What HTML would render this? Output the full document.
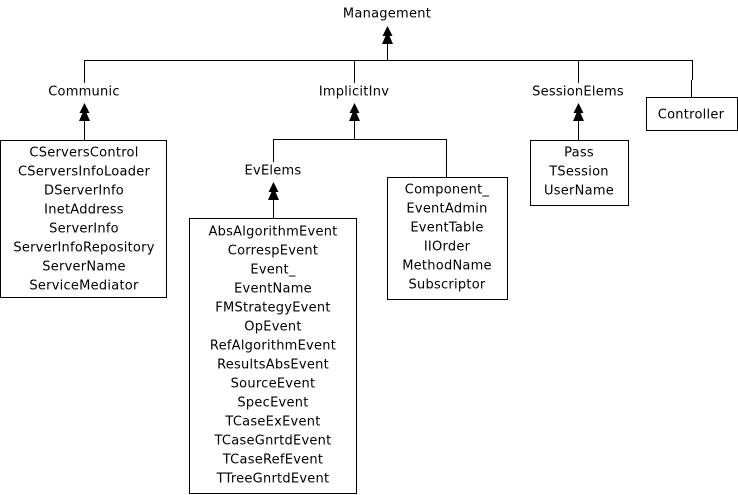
<!DOCTYPE html>
<html><head><meta charset="utf-8"><style>
html,body{margin:0;padding:0;background:#fff;width:738px;height:495px;overflow:hidden}
svg text{font-family:"DejaVu Sans","Liberation Sans",sans-serif;font-size:13px;letter-spacing:0.25px;fill:#000;text-anchor:middle;dominant-baseline:central}
</style></head><body>
<svg width="738" height="495" viewBox="0 0 738 495" xmlns="http://www.w3.org/2000/svg">
<defs>
<g id="ar"><polygon points="0,0 -5,10 -2,10 -5.5,18 5.5,18 2,10 5,10" fill="#000"/></g>
</defs>
<g stroke="#000" stroke-width="1" fill="none" shape-rendering="crispEdges">
<line x1="84.5" y1="60.5" x2="692.5" y2="60.5"/>
<line x1="387.5" y1="40" x2="387.5" y2="60"/>
<line x1="84.5" y1="60" x2="84.5" y2="83"/>
<line x1="354.5" y1="60" x2="354.5" y2="83"/>
<line x1="578.5" y1="60" x2="578.5" y2="83"/>
<line x1="692.5" y1="60" x2="692.5" y2="80"/>
<line x1="691.5" y1="80" x2="691.5" y2="97"/>
<line x1="84.5" y1="118" x2="84.5" y2="140"/>
<line x1="354.5" y1="118" x2="354.5" y2="139"/>
<line x1="273.5" y1="139.5" x2="446.5" y2="139.5"/>
<line x1="273.5" y1="139" x2="273.5" y2="162"/>
<line x1="446.5" y1="139" x2="446.5" y2="177"/>
<line x1="273.5" y1="198" x2="273.5" y2="218"/>
<line x1="578.5" y1="118" x2="578.5" y2="140"/>
<rect x="0.5" y="140.5" width="166" height="157"/>
<rect x="189.5" y="218.5" width="167" height="275"/>
<rect x="387.5" y="177.5" width="120" height="122"/>
<rect x="530.5" y="140.5" width="98" height="65"/>
<rect x="646.5" y="97.5" width="91" height="33"/>
</g>
<use href="#ar" x="387.5" y="26"/>
<use href="#ar" x="84.5" y="103"/>
<use href="#ar" x="354.5" y="103"/>
<use href="#ar" x="578.5" y="103"/>
<use href="#ar" x="273.5" y="182"/>
<g transform="translate(0,1)">
<text x="387" y="13">Management</text>
<text x="84" y="91">Communic</text>
<text x="354" y="91">ImplicitInv</text>
<text x="578" y="91">SessionElems</text>
<text x="273" y="170">EvElems</text>
<text x="691" y="114">Controller</text>
<g>
<text x="84" y="152">CServersControl</text>
<text x="84" y="171">CServersInfoLoader</text>
<text x="84" y="190">DServerInfo</text>
<text x="84" y="209">InetAddress</text>
<text x="84" y="228">ServerInfo</text>
<text x="84" y="247">ServerInfoRepository</text>
<text x="84" y="266">ServerName</text>
<text x="84" y="285">ServiceMediator</text>
</g>
<g>
<text x="273" y="231">AbsAlgorithmEvent</text>
<text x="273" y="250">CorrespEvent</text>
<text x="273" y="269">Event_</text>
<text x="273" y="288">EventName</text>
<text x="273" y="307">FMStrategyEvent</text>
<text x="273" y="326">OpEvent</text>
<text x="273" y="345">RefAlgorithmEvent</text>
<text x="273" y="364">ResultsAbsEvent</text>
<text x="273" y="383">SourceEvent</text>
<text x="273" y="402">SpecEvent</text>
<text x="273" y="421">TCaseExEvent</text>
<text x="273" y="440">TCaseGnrtdEvent</text>
<text x="273" y="459">TCaseRefEvent</text>
<text x="273" y="478">TTreeGnrtdEvent</text>
</g>
<g>
<text x="447" y="189">Component_</text>
<text x="447" y="208">EventAdmin</text>
<text x="447" y="227">EventTable</text>
<text x="447" y="246">IIOrder</text>
<text x="447" y="265">MethodName</text>
<text x="447" y="284">Subscriptor</text>
</g>
<g>
<text x="579" y="152">Pass</text>
<text x="579" y="171">TSession</text>
<text x="579" y="190">UserName</text>
</g>
</g>
</svg>
</body></html>
